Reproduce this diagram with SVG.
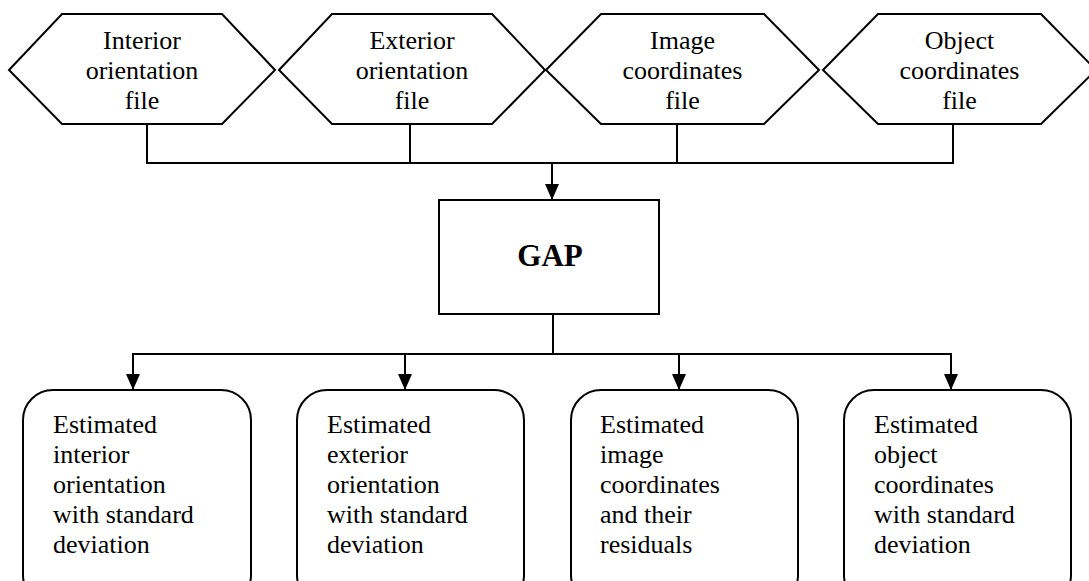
<svg xmlns="http://www.w3.org/2000/svg" width="1089" height="581" viewBox="0 0 1089 581" font-family="Liberation Serif, Times New Roman, serif">
  <defs>
    <marker id="arrow" markerWidth="16" markerHeight="14" refX="16" refY="7" orient="auto" markerUnits="userSpaceOnUse" viewBox="0 0 16 14">
      <path d="M0,0 L16,7 L0,14 Z" fill="#000"/>
    </marker>
    <style>
      .shape { fill: #fff; stroke: #000; stroke-width: 2; }
      .wire { fill: none; stroke: #000; stroke-width: 2; }
      .label { font-family: 'Liberation Serif', serif; font-size: 26px; fill: #000; }
      .mid { text-anchor: middle; }
      .title { font-family: 'Liberation Serif', serif; font-size: 31px; font-weight: bold; text-anchor: middle; fill: #000; }
    </style>
  </defs>
  <rect width="1089" height="581" fill="#fff"/>

  <!-- input files -->
  <g id="interior-file">
    <polygon class="shape" points="9,70 62,14 222,14 275,70 222,124 62,124"/>
    <text class="label mid" x="142" y="49">Interior</text>
    <text class="label mid" x="142" y="79">orientation</text>
    <text class="label mid" x="142" y="109">file</text>
  </g>
  <g id="exterior-file">
    <polygon class="shape" points="279,70 332,14 492,14 545,70 492,124 332,124"/>
    <text class="label mid" x="412" y="49">Exterior</text>
    <text class="label mid" x="412" y="79">orientation</text>
    <text class="label mid" x="412" y="109">file</text>
  </g>
  <g id="image-file">
    <polygon class="shape" points="546,70 601,14 764,14 819,70 764,124 601,124"/>
    <text class="label mid" x="682.5" y="49">Image</text>
    <text class="label mid" x="682.5" y="79">coordinates</text>
    <text class="label mid" x="682.5" y="109">file</text>
  </g>
  <g id="object-file">
    <polygon class="shape" points="823,70 878,14 1041,14 1096,70 1041,124 878,124"/>
    <text class="label mid" x="959.5" y="49">Object</text>
    <text class="label mid" x="959.5" y="79">coordinates</text>
    <text class="label mid" x="959.5" y="109">file</text>
  </g>

  <!-- connectors -->
  <g id="connectors">
    <polyline class="wire" points="147,124 147,163 953,163 953,124"/>
    <line class="wire" x1="410" y1="124" x2="410" y2="163"/>
    <line class="wire" x1="677" y1="124" x2="677" y2="163"/>
    <line class="wire" x1="552" y1="163" x2="552" y2="200" marker-end="url(#arrow)"/>
    <line class="wire" x1="553" y1="314" x2="553" y2="354"/>
    <line class="wire" x1="133" y1="354" x2="951" y2="354"/>
    <line class="wire" x1="133" y1="353" x2="133" y2="390" marker-end="url(#arrow)"/>
    <line class="wire" x1="405" y1="353" x2="405" y2="390" marker-end="url(#arrow)"/>
    <line class="wire" x1="679" y1="353" x2="679" y2="390" marker-end="url(#arrow)"/>
    <line class="wire" x1="951" y1="353" x2="951" y2="390" marker-end="url(#arrow)"/>
  </g>

  <!-- processing step -->
  <g id="gap">
    <rect class="shape" x="439" y="200" width="220" height="114"/>
    <text class="title" x="550" y="266">GAP</text>
  </g>

  <!-- outputs -->
  <g id="out-interior">
    <rect class="shape" x="23" y="390" width="228" height="215" rx="30" ry="30"/>
    <text class="label" x="53" y="433">Estimated</text>
    <text class="label" x="53" y="463">interior</text>
    <text class="label" x="53" y="493">orientation</text>
    <text class="label" x="53" y="523">with standard</text>
    <text class="label" x="53" y="553">deviation</text>
  </g>
  <g id="out-exterior">
    <rect class="shape" x="297" y="390" width="227" height="215" rx="30" ry="30"/>
    <text class="label" x="327" y="433">Estimated</text>
    <text class="label" x="327" y="463">exterior</text>
    <text class="label" x="327" y="493">orientation</text>
    <text class="label" x="327" y="523">with standard</text>
    <text class="label" x="327" y="553">deviation</text>
  </g>
  <g id="out-image">
    <rect class="shape" x="571" y="390" width="227" height="215" rx="30" ry="30"/>
    <text class="label" x="600" y="433">Estimated</text>
    <text class="label" x="600" y="463">image</text>
    <text class="label" x="600" y="493">coordinates</text>
    <text class="label" x="600" y="523">and their</text>
    <text class="label" x="600" y="553">residuals</text>
  </g>
  <g id="out-object">
    <rect class="shape" x="844" y="390" width="227" height="215" rx="30" ry="30"/>
    <text class="label" x="874" y="433">Estimated</text>
    <text class="label" x="874" y="463">object</text>
    <text class="label" x="874" y="493">coordinates</text>
    <text class="label" x="874" y="523">with standard</text>
    <text class="label" x="874" y="553">deviation</text>
  </g>
</svg>
